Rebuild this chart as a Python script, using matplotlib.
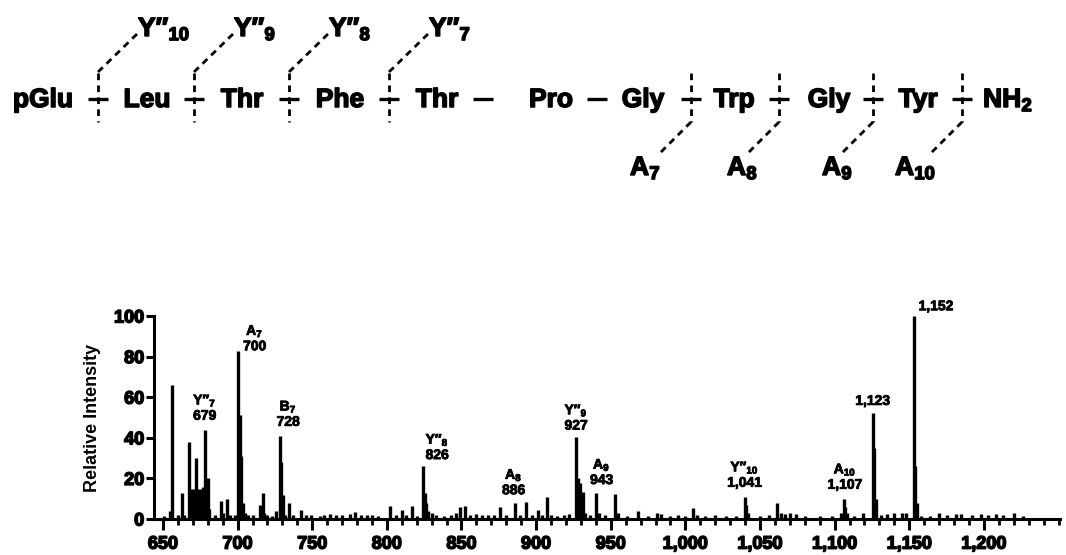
import numpy as np
import matplotlib.pyplot as plt
from matplotlib import rcParams, patheffects
from matplotlib.ticker import MultipleLocator, FuncFormatter

rcParams['font.family'] = ['Liberation Sans', 'DejaVu Sans']
rcParams['font.weight'] = 'bold'
rcParams['mathtext.fontset'] = 'custom'
rcParams['mathtext.rm'] = 'Liberation Sans:bold'
rcParams['mathtext.it'] = 'Liberation Sans:bold'
rcParams['mathtext.bf'] = 'Liberation Sans:bold'
rcParams['mathtext.default'] = 'rm'

# peptide sequence and fragmentation scheme
residues = ['pGlu', 'Leu', 'Thr', 'Phe', 'Thr', 'Pro', 'Gly', 'Trp', 'Gly', 'Tyr', 'NH$_2$']
res_x = [43, 147, 242, 340, 437, 551, 643, 734, 829, 918, 1008]
bond_x = [98, 194, 289, 389, 483, 597, 691, 779, 873, 962]
bond_cut = [True, True, True, True, False, False, True, True, True, True]
y_ions = ['10', '9', '8', '7']          # above, first four bonds
a_ions = ['7', '8', '9', '10']          # below, last four bonds
a_label_x = [630, 727, 822, 895]

# spectrum: m/z and relative intensity
mz = [651, 654.5, 656, 660, 662.7, 664, 667.2, 668, 669, 670, 671, 672.4, 673, 674, 675,
      676, 677, 678, 679, 680, 681, 685, 688.7, 690, 692.9, 695, 698,
      700.3, 701.3, 702.3, 703.3, 705, 707, 710, 714.7, 716.7, 718, 720, 723, 726,
      728.3, 729.3, 730.3, 732, 734.5, 737, 742.8, 746, 749, 755, 758, 762, 766, 770,
      775, 779, 783, 787, 790, 794, 802, 806, 809.9, 813, 816.6, 820,
      824.4, 825.4, 826.4, 827.4, 830, 833, 838, 843, 846, 849, 852.3, 856, 860, 864,
      868, 872, 875.8, 880, 885.9, 889, 893, 897, 901.5, 904, 907.1, 910, 914, 919, 922,
      926.8, 927.8, 929.4, 931.5, 933, 936, 940.2, 942, 946, 953, 955, 961, 968.6,
      975, 981, 984, 990, 995, 1000, 1005, 1008, 1013, 1020, 1027, 1034,
      1039.7, 1040.7, 1042, 1050, 1056, 1061.4, 1064, 1067, 1070, 1074, 1080, 1090,
      1098, 1104, 1106, 1107, 1108, 1113, 1119, 1125.5, 1126.5, 1127.5, 1131, 1135,
      1140, 1145, 1148, 1153, 1154, 1155, 1158, 1164, 1170, 1175, 1181, 1185, 1192,
      1198, 1203, 1208, 1213, 1220, 1226]
intensity = [1.5, 4, 66, 2, 13, 2, 38, 15, 14, 15, 14, 30, 15, 14, 15,
             14, 16, 44, 15, 20, 5, 2, 9, 3, 10, 2, 2,
             83, 51, 31, 8, 3, 2, 2, 7, 13, 3, 2, 1.5, 4,
             41, 28, 12, 2, 8, 2, 4.5, 2, 2, 1.5, 2, 2.5, 2, 2,
             2.5, 3.5, 2, 2, 2, 1.5, 6.4, 2, 4.5, 2, 6.4, 1.5,
             26, 13, 8, 4, 3, 2, 1.5, 2, 3, 6, 6.5, 2, 2.5, 2,
             2, 2, 6, 2, 8, 2, 8.5, 2, 4.5, 2, 11, 2, 1.5, 2, 2.5,
             40.5, 20, 17.7, 13.5, 3, 2, 13, 3, 2, 12.3, 3, 1.5, 4,
             1.5, 3, 2.5, 1.5, 2, 1.5, 5.4, 2, 1.5, 2, 1.5, 1.5,
             11, 7, 3, 1.5, 2, 8, 3, 2.5, 3, 2.5, 1.5, 1.5,
             1.5, 3, 10, 6, 3, 1.5, 3, 52, 35, 10, 2, 2.5,
             3, 3, 3, 100, 26, 8, 1.5, 1.5, 3, 2, 2.5, 2.5, 2,
             2.5, 2, 2.5, 2, 3, 1.5]

# labelled peaks: anchor m/z, ion name, mass text
ann_mz = [678, 700.3, 728.3, 824.4, 885.9, 926.8, 940.2, 1039.7, 1106, 1125.5, 1153]
ann_ion = ['Y″$_7$', 'A$_7$', 'B$_7$', 'Y″$_8$', 'A$_8$', 'Y″$_9$', 'A$_9$', 'Y″$_{10}$', 'A$_{10}$', '', '']
ann_mass = ['679', '700', '728', '826', '886', '927', '943', '1,041', '1,107', '1,123', '1,152']
ann_dx = [0, 12, 6, 10, -1, 0, 4, 0, 1, 0, 16]
ann_dy = [5, -2, 5, 3, 4, 3, 4, 5, 5, 4, 2]

heavy = [patheffects.withStroke(linewidth=1.1, foreground='black')]
light = [patheffects.withStroke(linewidth=0.6, foreground='black')]

fig = plt.figure(figsize=(10.66, 5.55), dpi=100)

# spectrum
ax = fig.add_axes([154 / 1066, 1 - 519 / 555, (1060 - 154) / 1066, (519 - 316) / 555])
ax.vlines(mz, 0, intensity, color='black', linewidth=2.4, capstyle='butt')
ax.set_xlim(644, 1251)
ax.set_ylim(0, 100)
for s in ['top', 'right']:
    ax.spines[s].set_visible(False)
for s in ['left', 'bottom']:
    ax.spines[s].set_linewidth(2.2)
ax.xaxis.set_minor_locator(MultipleLocator(10))
ax.set_xticks(np.arange(650, 1201, 50))
ax.xaxis.set_major_formatter(FuncFormatter(lambda v, p: f'{v:,.0f}'))
ax.set_yticks(np.arange(0, 101, 20))
ax.tick_params(axis='x', which='major', length=8, width=2.2, pad=4, labelsize=13)
ax.tick_params(axis='x', which='minor', length=4, width=2, direction='out')
ax.tick_params(axis='y', which='major', length=6, width=2.2, pad=1, labelsize=13)
for lbl in ax.get_xticklabels() + ax.get_yticklabels():
    lbl.set_path_effects(heavy)
ax.set_ylabel('Relative Intensity', fontsize=13, fontweight='bold')
ax.yaxis.set_label_coords(-0.058, 0.5)

for x0, ion, mass, dx, dy in zip(ann_mz, ann_ion, ann_mass, ann_dx, ann_dy):
    y0 = intensity[mz.index(x0)]
    txt = ion + '\n' + mass if ion else mass
    ax.annotate(txt, xy=(x0, y0), xytext=(dx, dy), textcoords='offset points',
                ha='center', va='bottom', fontsize=10, linespacing=1.0,
                path_effects=light)

# sequence scheme on a pixel-space overlay
top = fig.add_axes([0, 0, 1, 1], facecolor='none')
top.set_xlim(0, 1066)
top.set_ylim(555, 0)
top.axis('off')

for name, x in zip(residues, res_x):
    top.text(x, 107, name, ha='center', va='baseline', fontsize=19, path_effects=heavy)

dash = dict(color='black', linewidth=2.0, linestyle=(0, (2.4, 1.9)))
for x, cut in zip(bond_x, bond_cut):
    top.plot([x - 10, x + 10], [99, 99], color='black', linewidth=2.4, solid_capstyle='butt')
    if cut:
        top.plot([x, x], [73, 122], **dash)

for x, n in zip(bond_x[:4], y_ions):
    top.plot([x, x + 40], [72, 33], **dash)
    top.text(x + 40, 36, 'Y″$_{' + n + '}$', ha='left', va='baseline', fontsize=19,
             path_effects=heavy)

for x, n, lx in zip(bond_x[6:], a_ions, a_label_x):
    top.plot([x, x - 33], [122, 155], **dash)
    top.text(lx, 175, 'A$_{' + n + '}$', ha='left', va='baseline', fontsize=19,
             path_effects=heavy)

plt.savefig('out.png', dpi=100)
